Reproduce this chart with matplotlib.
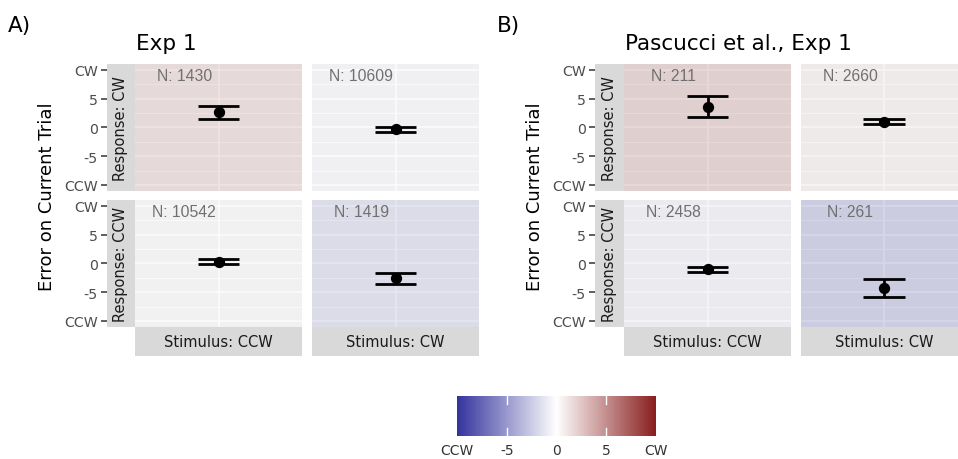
import numpy as np
import matplotlib
matplotlib.use("Agg")
import matplotlib.pyplot as plt
from matplotlib.colors import LinearSegmentedColormap, Normalize, to_rgb

# ---------------- data ----------------
panel_tags = ["A)", "B)"]
titles = ["Exp 1", "Pascucci et al., Exp 1"]
response_labels = ["Response: CW", "Response: CCW"]
stimulus_labels = ["Stimulus: CCW", "Stimulus: CW"]
ytick_vals = [-10, -5, 0, 5, 10]
ytick_labels = ["CCW", "-5", "0", "5", "CW"]
cbar_tick_vals = [-10, -5, 0, 5, 10]
cbar_tick_labels = ["CCW", "-5", "0", "5", "CW"]

# rows: response CW, CCW ; cols: stimulus CCW, CW
means_A = [[2.6, -0.35], [0.3, -2.6]]
ci_A = [[1.1, 0.4], [0.4, 1.0]]
n_A = [[1430, 10609], [10542, 1419]]

means_B = [[3.6, 1.0], [-1.05, -4.25]]
ci_B = [[1.85, 0.5], [0.5, 1.55]]
n_B = [[211, 2660], [2458, 261]]

all_means = [means_A, means_B]
all_ci = [ci_A, ci_B]
all_n = [n_A, n_B]

# ---------------- style ----------------
W, H = 958, 460
fig = plt.figure(figsize=(W / 100, H / 100), dpi=100)
plt.rcParams["font.family"] = ["DejaVu Sans"]

cmap = LinearSegmentedColormap.from_list("div", ["#34349e", "#ffffff", "#8a1f1f"])
norm = Normalize(-10, 10)
alpha = 0.45


def add_ax(x0, y0, x1, y1):
    return fig.add_axes([x0 / W, 1 - y1 / H, (x1 - x0) / W, (y1 - y0) / H])


# pixel layout per figure part
layouts = [
    dict(strip_l=(107, 135), cols=[(135, 302), (312, 479)], ylab_x=47, tag_x=8, title_x=136),
    dict(strip_l=(595, 624), cols=[(624, 791), (801, 967)], ylab_x=535, tag_x=497, title_x=625),
]
rows = [(65, 191.7), (201, 327.7)]
strip_b = (328, 357)

for p in range(2):
    L = layouts[p]
    means, ci, ns = all_means[p], all_ci[p], all_n[p]
    for r in range(2):
        y0, y1 = rows[r]
        # left strip with the y axis
        sax = add_ax(L["strip_l"][0], y0, L["strip_l"][1], y1)
        sax.set_facecolor("#d9d9d9")
        sax.set_ylim(-11, 11)
        sax.set_xlim(0, 1)
        sax.set_xticks([])
        sax.set_yticks(ytick_vals)
        sax.set_yticklabels(ytick_labels, fontsize=10.2, color="#4d4d4d")
        sax.tick_params(axis="y", length=4, width=1.1, color="#333333", pad=2.5)
        for s in sax.spines.values():
            s.set_visible(False)
        sax.text(0.5, 0.5, response_labels[r], rotation=90, ha="center", va="center",
                 fontsize=10.5, color="#1a1a1a", transform=sax.transAxes)
        for c in range(2):
            x0, x1 = L["cols"][c]
            ax = add_ax(x0, y0, x1, y1)
            ax.set_facecolor("#ebebeb")
            ax.set_xlim(-1, 1)
            ax.set_ylim(-11, 11)
            ax.set_xticks([])
            ax.set_yticks([])
            for s in ax.spines.values():
                s.set_visible(False)
            for gy in [-10, -5, 0, 5, 10]:
                ax.axhline(gy, color="white", lw=1.1, zorder=1)
            for gy in [-7.5, -2.5, 2.5, 7.5]:
                ax.axhline(gy, color="white", lw=0.55, zorder=1)
            ax.axvline(0, color="white", lw=1.1, zorder=1)
            fill = np.array(cmap(norm(means[r][c]))[:3])
            ax.axvspan(-1, 1, color=fill, alpha=alpha, lw=0, zorder=2)
            m, e = means[r][c], ci[r][c]
            ax.vlines(0, m - e, m + e, color="black", lw=2.0, zorder=3)
            ax.hlines([m - e, m + e], -0.25, 0.25, color="black", lw=2.0, zorder=3)
            ax.scatter([0], [m], s=66, color="black", zorder=4, linewidths=0)
            ax.text(-0.41, 9, f"N: {ns[r][c]}", ha="center", va="center",
                    fontsize=11.3, color="#707070", family=["Liberation Sans", "DejaVu Sans"],
                    zorder=5)
            if r == 1:
                bax = add_ax(x0, strip_b[0], x1, strip_b[1])
                bax.set_facecolor("#d9d9d9")
                bax.set_xticks([])
                bax.set_yticks([])
                for s in bax.spines.values():
                    s.set_visible(False)
                bax.text(0.5, 0.5, stimulus_labels[c], ha="center", va="center",
                         fontsize=10.5, color="#1a1a1a", transform=bax.transAxes)
    # y label
    fig.text(L["ylab_x"] / W, 1 - 196.5 / H, "Error on Current Trial", rotation=90,
             ha="center", va="center", fontsize=13, color="black")
    # title
    fig.text(L["title_x"] / W, 1 - 44 / H, titles[p], ha="left", va="center",
             fontsize=15.5, color="black")
    # tag
    fig.text(L["tag_x"] / W, 1 - 26 / H, panel_tags[p], ha="left", va="center",
             fontsize=15.5, color="black")

# colour bar
cax = add_ax(457, 397, 656, 437)
grad = np.linspace(-10, 10, 400).reshape(1, -1)
cax.imshow(grad, cmap=cmap, norm=norm, aspect="auto", extent=[-10, 10, 0, 1])
cax.set_xlim(-10, 10)
cax.set_ylim(0, 1)
cax.set_yticks([])
cax.set_xticks(cbar_tick_vals)
cax.set_xticklabels(cbar_tick_labels, fontsize=10, color="#333333")
cax.tick_params(axis="x", length=0, pad=5)
for s in cax.spines.values():
    s.set_visible(False)
for tv in [-5, 0, 5]:
    cax.plot([tv, tv], [0, 0.2], color="white", lw=1)
    cax.plot([tv, tv], [0.8, 1], color="white", lw=1)

fig.savefig("out.png", dpi=100)
